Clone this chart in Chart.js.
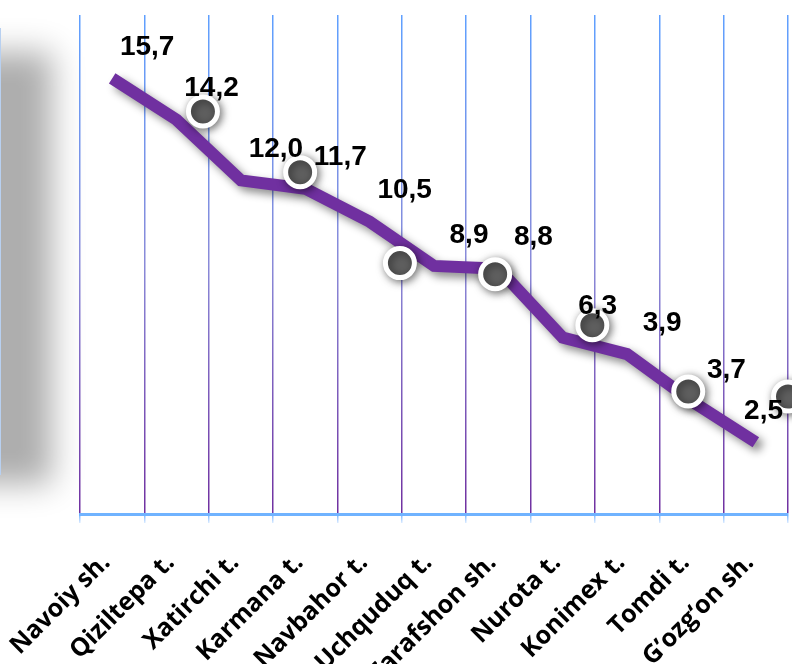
<!DOCTYPE html>
<html>
<head>
<meta charset="utf-8">
<script src="https://cdn.jsdelivr.net/npm/chart.js@4"></script>
<style>
  html, body { margin: 0; padding: 0; background: #fff; overflow: hidden; }
  canvas { display: block; }
</style>
</head>
<body>
<canvas id="myChart" width="792" height="664"></canvas>
<script>
// districts on the x axis
var districts = ['Navoiy sh.', 'Qiziltepa t.', 'Xatirchi t.', 'Karmana t.', 'Navbahor t.', 'Uchquduq t.',
  'Zarafshon sh.', 'Nurota t.', 'Konimex t.', 'Tomdi t.', 'G\u2019ozg\u2018on sh.']
// where the purple line runs
var values = [15.7, 14.2, 12.0, 11.7, 10.5, 8.9, 8.8, 6.3, 5.7, 4.0, 2.5]
// numbers printed next to the line
var valueLabels = ['15,7', '14,2', '12,0', '11,7', '10,5', '8,9', '8,8', '6,3', '3,9', '3,7', '2,5']
// grey round markers (x in category units)
var markerX = [1.41, 2.92, 4.47, 5.95, 7.46, 8.95, 10.5]
var markerY = [14.5, 12.3, 9.0, 8.6, 6.75, 4.34, 4.16]

var gridGrad = null
var tickGrad = null

function gridColor (c) {
  var area = c.chart.chartArea
  if (!area) return '#7f8fe0'
  if (!gridGrad) {
    gridGrad = c.chart.ctx.createLinearGradient(0, area.top, 0, area.bottom)
    gridGrad.addColorStop(0, '#5fa0ff')
    gridGrad.addColorStop(0.5, '#8a8ad8')
    gridGrad.addColorStop(1, '#7030a0')
  }
  return gridGrad
}

function tickColor (c) {
  var area = c.chart.chartArea
  if (!area) return '#8cc0ff'
  if (!tickGrad) {
    tickGrad = c.chart.ctx.createLinearGradient(0, area.bottom, 0, area.bottom + 10)
    tickGrad.addColorStop(0, '#6fb0ff')
    tickGrad.addColorStop(1, '#e8f2ff')
  }
  return tickGrad
}

var backdrop = {
  id: 'backdrop',
  beforeDraw: function (chart) {
    var ctx = chart.ctx
    ctx.save()
    ctx.fillStyle = '#fff'
    ctx.fillRect(0, 0, chart.width, chart.height)
    // blurred grey block on the left edge
    ctx.shadowColor = 'rgb(174,174,174)'
    ctx.shadowBlur = 30
    ctx.shadowOffsetX = 200
    ctx.fillStyle = '#000'
    ctx.fillRect(-260, 52, 112, 432)
    ctx.restore()
    ctx.save()
    ctx.strokeStyle = '#b8d0f0'
    ctx.lineWidth = 1
    ctx.beginPath()
    ctx.moveTo(0.5, 28)
    ctx.lineTo(0.5, 475)
    ctx.stroke()
    ctx.restore()
  }
}

var shadows = {
  id: 'shadows',
  beforeDatasetDraw: function (chart, args) {
    var ctx = chart.ctx
    ctx.save()
    if (args.index === 0) {
      ctx.shadowColor = 'rgba(0,0,0,0.45)'
      ctx.shadowBlur = 9
      ctx.shadowOffsetX = 5
      ctx.shadowOffsetY = 5
    } else {
      ctx.shadowColor = 'rgba(0,0,0,0.5)'
      ctx.shadowBlur = 8
      ctx.shadowOffsetX = 2
      ctx.shadowOffsetY = 2
    }
  },
  afterDatasetDraw: function (chart) {
    chart.ctx.restore()
  }
}

var numbers = {
  id: 'numbers',
  afterDatasetsDraw: function (chart) {
    var ctx = chart.ctx
    var meta = chart.getDatasetMeta(0)
    ctx.save()
    ctx.font = 'bold 28px "Liberation Sans", Arial, sans-serif'
    ctx.fillStyle = '#000'
    ctx.textAlign = 'center'
    ctx.textBaseline = 'middle'
    meta.data.forEach(function (pt, i) {
      var half = ctx.measureText(valueLabels[i]).width / 2
      // keep the number inside the canvas
      var x = Math.min(pt.x + 35, chart.width - 9 - half)
      ctx.fillText(valueLabels[i], x, pt.y - 31)
    })
    ctx.restore()
  }
}

var ctx = document.getElementById('myChart')
var myChart = new Chart(ctx, {
  data: {
    labels: districts,
    datasets: [{
      type: 'line',
      data: values,
      borderColor: '#7030a0',
      borderWidth: 12,
      borderCapStyle: 'butt',
      borderJoinStyle: 'miter',
      pointRadius: 0,
      tension: 0,
      order: 1,
      clip: false
    }, {
      type: 'scatter',
      xAxisID: 'x2',
      data: markerX.map(function (x, i) { return { x: x, y: markerY[i] } }),
      pointRadius: 14.5,
      pointBorderWidth: 5,
      pointBackgroundColor: '#5f5f5f',
      pointBorderColor: '#ffffff',
      showLine: false,
      order: 0,
      clip: false
    }]
  },
  options: {
    responsive: false,
    animation: false,
    events: [],
    layout: { autoPadding: false, padding: { left: 80, right: 4, top: 15, bottom: 0 } },
    plugins: {
      legend: { display: false },
      tooltip: { enabled: false }
    },
    scales: {
      x: {
        type: 'category',
        offset: true,
        grid: {
          offset: true,
          color: gridColor,
          tickColor: tickColor,
          lineWidth: 1.5,
          tickLength: 9
        },
        border: { color: '#70b3ff', width: 3 },
        ticks: {
          color: '#000',
          autoSkip: false,
          minRotation: 45,
          maxRotation: 45,
          padding: 25,
          labelOffset: -6,
          font: { family: '"Open Sans", sans-serif', weight: 'bold', size: 25 }
        },
        afterFit: function (scale) {
          scale.height = 150
          scale.paddingLeft = 0
          scale.paddingRight = 0
        }
      },
      x2: { type: 'linear', display: false, min: -0.5, max: 10.5 },
      y: { display: false, min: -0.1, max: 18 }
    }
  },
  plugins: [backdrop, shadows, numbers]
})
</script>
</body>
</html>
